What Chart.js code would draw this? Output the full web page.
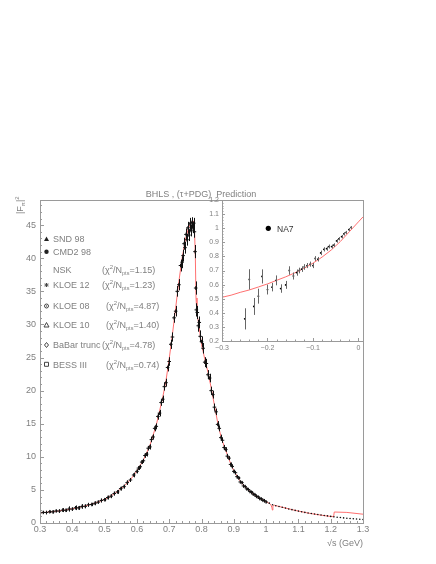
<!DOCTYPE html>
<html>
<head>
<meta charset="utf-8">
<title>BHLS prediction</title>
<script src="https://cdn.jsdelivr.net/npm/chart.js@4.4.1/dist/chart.umd.min.js"></script>
<style>
  html, body { margin: 0; padding: 0; background: #fff; }
  #wrap { position: relative; width: 436px; height: 564px; }
  #mainChart { position: absolute; left: 0; top: 0; }
  #insetChart { position: absolute; left: 190px; top: 190px; }
</style>
</head>
<body>
<div id="wrap">
  <canvas id="mainChart" width="436" height="564"></canvas>
  <canvas id="insetChart" width="180" height="170"></canvas>
</div>
<script>
const FONT = '"Liberation Sans", Arial, sans-serif';
const TEXT = '#808080';
const AXIS = '#9a9a9a';

// Timelike region: |F_pi|^2 against sqrt(s) in GeV
const mainXTicks = [0.3, 0.4, 0.5, 0.6, 0.7, 0.8, 0.9, 1.0, 1.1, 1.2, 1.3];
const mainXLabels = ['0.3', '0.4', '0.5', '0.6', '0.7', '0.8', '0.9', '1', '1.1', '1.2', '1.3'];
const mainYTicks = [0, 5, 10, 15, 20, 25, 30, 35, 40, 45];
const mainYLabels = ['0', '5', '10', '15', '20', '25', '30', '35', '40', '45'];

// BHLS prediction curve (red)
const curveS = [0.30, 0.32, 0.34, 0.36, 0.38, 0.40, 0.42, 0.44, 0.46, 0.48,
  0.50, 0.52, 0.54, 0.56, 0.58, 0.60, 0.62, 0.64, 0.66, 0.68,
  0.69, 0.70, 0.71, 0.72, 0.73, 0.74, 0.75, 0.76, 0.77, 0.775,
  0.778, 0.781, 0.783, 0.786, 0.79, 0.80, 0.81, 0.82, 0.83, 0.84,
  0.85, 0.86, 0.87, 0.88, 0.89, 0.90, 0.92, 0.94, 0.96, 0.98,
  1.00, 1.01, 1.015, 1.018, 1.0195, 1.021, 1.025, 1.03, 1.05, 1.08,
  1.10, 1.13, 1.16, 1.19, 1.209, 1.211, 1.25, 1.30];
const curveF2 = [1.55, 1.62, 1.72, 1.84, 1.98, 2.15, 2.35, 2.58, 2.86, 3.18,
  3.57, 4.10, 4.75, 5.55, 6.55, 7.85, 9.50, 11.7, 14.8, 19.0,
  21.5, 24.8, 28.5, 32.5, 36.5, 40.0, 42.8, 44.6, 45.5, 45.6,
  44.8, 40.0, 34.0, 31.5, 30.5, 27.0, 24.8, 22.8, 20.4, 17.8,
  15.2, 13.1, 11.6, 10.3, 9.0, 7.9, 6.3, 5.2, 4.4, 3.75,
  3.2, 2.95, 2.75, 2.3, 1.95, 2.55, 2.7, 2.62, 2.38, 2.02,
  1.8, 1.5, 1.26, 1.05, 0.95, 1.66, 1.6, 1.33];

// e+e- data (all experiments, black points with errors)
const dataS = [0.30, 0.31, 0.32, 0.33, 0.34, 0.35, 0.36, 0.37, 0.38, 0.39,
  0.40, 0.41, 0.42, 0.43, 0.44, 0.45, 0.46, 0.47, 0.48, 0.49,
  0.50, 0.51, 0.52, 0.53, 0.54, 0.55, 0.56, 0.57, 0.58, 0.59,
  0.60,
  0.605, 0.61, 0.615, 0.62, 0.625, 0.63, 0.635, 0.64, 0.645, 0.65,
  0.655, 0.66, 0.665, 0.67, 0.675, 0.68, 0.685, 0.69, 0.695, 0.70,
  0.705, 0.71, 0.715, 0.72, 0.725, 0.73, 0.735, 0.74,
  0.743, 0.746, 0.749, 0.752, 0.755, 0.758, 0.761, 0.764, 0.767, 0.770,
  0.773, 0.776, 0.778, 0.780, 0.782, 0.784, 0.787, 0.790, 0.793, 0.796,
  0.800,
  0.805, 0.810, 0.815, 0.820, 0.825, 0.830, 0.835, 0.840, 0.845, 0.850,
  0.855, 0.860, 0.865, 0.870, 0.875, 0.880, 0.885, 0.890, 0.895, 0.900,
  0.905, 0.910, 0.915, 0.920, 0.925, 0.930, 0.935, 0.940, 0.945, 0.950,
  0.955, 0.960, 0.965, 0.970, 0.975, 0.980, 0.985, 0.990, 0.995, 1.000];
const dataF2 = [1.52, 1.60, 1.58, 1.70, 1.68, 1.82, 1.80, 1.95, 1.92, 2.12,
  2.10, 2.30, 2.28, 2.50, 2.52, 2.75, 2.80, 2.98, 3.15, 3.40,
  3.52, 3.85, 4.05, 4.45, 4.70, 5.20, 5.50, 6.10, 6.50, 7.25,
  7.80,
  8.3, 8.5, 9.2, 9.4, 10.2, 10.4, 11.3, 11.5, 12.6, 13.0,
  14.3, 14.6, 16.1, 16.6, 18.2, 18.7, 20.6, 21.2, 23.5, 24.4,
  27.0, 28.1, 31.0, 32.0, 35.0, 36.0, 38.9, 39.4,
  40.4, 42.2, 41.6, 43.6, 42.8, 44.6, 43.5, 45.2, 44.2, 45.4,
  44.6, 45.3, 44.0, 41.0, 35.5, 32.2, 31.8, 29.8, 30.3, 28.2,
  27.4,
  26.4, 24.3, 24.1, 22.4, 21.9, 20.0, 19.4, 17.5, 16.8, 14.9,
  14.3, 12.9, 12.5, 11.4, 11.1, 10.1, 9.8, 8.85, 8.55, 7.8,
  7.6, 7.0, 6.8, 6.2, 6.1, 5.6, 5.5, 5.15, 5.05, 4.75,
  4.65, 4.35, 4.28, 4.02, 3.95, 3.7, 3.65, 3.43, 3.36, 3.18];
const dataErr = [0.25, 0.2, 0.25, 0.2, 0.25, 0.2, 0.25, 0.3, 0.25, 0.4,
  0.25, 0.35, 0.3, 0.35, 0.3, 0.3, 0.25, 0.3, 0.25, 0.3,
  0.25, 0.3, 0.3, 0.3, 0.3, 0.3, 0.3, 0.35, 0.3, 0.35,
  0.3,
  0.3, 0.3, 0.3, 0.3, 0.35, 0.35, 0.35, 0.4, 0.4, 0.4,
  0.45, 0.45, 0.5, 0.5, 0.5, 0.55, 0.6, 0.6, 0.6, 0.65,
  0.7, 0.7, 0.75, 0.8, 0.8, 0.85, 0.9, 0.9,
  0.9, 0.9, 0.9, 0.9, 0.9, 0.9, 0.9, 0.9, 0.9, 0.8,
  0.8, 0.8, 0.9, 1.0, 1.0, 1.0, 1.0, 0.9, 0.9, 0.9,
  0.8,
  0.8, 0.75, 0.7, 0.7, 0.65, 0.6, 0.6, 0.55, 0.5, 0.5,
  0.45, 0.45, 0.4, 0.4, 0.35, 0.35, 0.3, 0.3, 0.3, 0.25,
  0.25, 0.25, 0.2, 0.2, 0.2, 0.2, 0.18, 0.18, 0.18, 0.16,
  0.16, 0.15, 0.15, 0.15, 0.14, 0.14, 0.13, 0.13, 0.12, 0.12];

// BaBar points above the fit range (dotted)
const babarS = [1.01, 1.02, 1.03, 1.04, 1.05, 1.06, 1.07, 1.08, 1.09, 1.10,
  1.11, 1.12, 1.13, 1.14, 1.15, 1.16, 1.17, 1.18, 1.19, 1.20,
  1.21, 1.22, 1.23, 1.24, 1.25, 1.26, 1.27, 1.28, 1.29, 1.30];
const babarF2 = [3.0, 2.75, 2.6, 2.5, 2.38, 2.25, 2.12, 2.02, 1.9, 1.8,
  1.7, 1.6, 1.52, 1.43, 1.36, 1.28, 1.2, 1.13, 1.07, 1.0,
  0.93, 0.88, 0.82, 0.77, 0.72, 0.68, 0.64, 0.6, 0.57, 0.54];

// Spacelike inset (NA7)
const insetXTicks = [-0.3, -0.2, -0.1, 0];
const insetXLabels = ['\u22120.3', '\u22120.2', '\u22120.1', '0'];
const insetYTicks = [0.2, 0.3, 0.4, 0.5, 0.6, 0.7, 0.8, 0.9, 1.0, 1.1, 1.2];
const insetYLabels = ['0.2', '0.3', '0.4', '0.5', '0.6', '0.7', '0.8', '0.9', '1', '1.1', '1.2'];

const insetCurveT = [-0.30, -0.28, -0.26, -0.24, -0.22, -0.20, -0.18, -0.16, -0.14, -0.12,
  -0.10, -0.08, -0.06, -0.04, -0.02, 0.00, 0.01];
const insetCurveF2 = [0.510, 0.525, 0.545, 0.562, 0.583, 0.605, 0.630, 0.655, 0.683, 0.715,
  0.752, 0.795, 0.845, 0.905, 0.975, 1.045, 1.08];

const na7T = [-0.250, -0.240, -0.230, -0.220, -0.212, -0.200, -0.190, -0.181, -0.171, -0.160,
  -0.152, -0.143, -0.136, -0.130, -0.125, -0.119, -0.113, -0.106, -0.100, -0.095,
  -0.089, -0.083, -0.076, -0.070, -0.065, -0.059, -0.054, -0.048, -0.043, -0.037,
  -0.032, -0.027, -0.021, -0.016];
const na7F2 = [0.357, 0.637, 0.445, 0.518, 0.658, 0.565, 0.582, 0.630, 0.572, 0.598,
  0.700, 0.661, 0.685, 0.700, 0.710, 0.725, 0.735, 0.745, 0.735, 0.785,
  0.780, 0.825, 0.850, 0.855, 0.870, 0.870, 0.880, 0.910, 0.925, 0.940,
  0.960, 0.970, 0.990, 1.005];
const na7Err = [0.075, 0.072, 0.060, 0.053, 0.050, 0.035, 0.030, 0.035, 0.030, 0.028,
  0.030, 0.025, 0.022, 0.020, 0.020, 0.020, 0.018, 0.018, 0.018, 0.017,
  0.016, 0.016, 0.015, 0.015, 0.014, 0.014, 0.013, 0.013, 0.012, 0.012,
  0.012, 0.011, 0.011, 0.010];

// Legend
const legendNames = ['SND 98', 'CMD2 98', 'NSK', 'KLOE 12', 'KLOE 08', 'KLOE 10', 'BaBar trunc', 'BESS III'];
const legendMarkers = ['triUp', 'dot', '', 'star', 'circle', 'triOpen', 'diamond', 'square'];
const legendChi = ['', '', '1.15', '1.23', '4.87', '1.40', '4.78', '0.74'];

Chart.defaults.font.family = FONT;

function toPoints(xs, ys) {
  return xs.map((x, i) => ({ x: x, y: ys[i] }));
}

// vertical error bars, drawn right after their own dataset
const errorBars = {
  id: 'errorBars',
  afterDatasetDraw(chart, args) {
    const ds = chart.data.datasets[args.index];
    if (!ds.errors) return;
    const ctx = chart.ctx, a = chart.chartArea;
    const xs = chart.scales.x, ys = chart.scales.y;
    ctx.save();
    ctx.beginPath();
    ctx.rect(a.left, a.top, a.right - a.left, a.bottom - a.top);
    ctx.clip();
    ctx.strokeStyle = ds.errorColor;
    ctx.lineWidth = 1;
    ctx.beginPath();
    ds.data.forEach((p, i) => {
      const px = Math.round(xs.getPixelForValue(p.x)) + 0.5;
      ctx.moveTo(px, ys.getPixelForValue(p.y - ds.errors[i]));
      ctx.lineTo(px, ys.getPixelForValue(p.y + ds.errors[i]));
    });
    ctx.stroke();
    ctx.restore();
  }
};

// ROOT style frame with ticks pointing inwards
function drawFrame(chart, major, minor, div) {
  const ctx = chart.ctx, a = chart.chartArea;
  const xs = chart.scales.x, ys = chart.scales.y;
  ctx.save();
  ctx.strokeStyle = AXIS;
  ctx.lineWidth = 1;
  ctx.strokeRect(Math.round(a.left) + 0.5, Math.round(a.top) + 0.5,
    Math.round(a.right - a.left), Math.round(a.bottom - a.top));
  ctx.beginPath();
  const xStep = (xs.ticks[1].value - xs.ticks[0].value) / div;
  for (let k = Math.ceil(xs.min / xStep - 1e-6); k * xStep <= xs.max + 1e-9; k++) {
    const px = Math.round(xs.getPixelForValue(k * xStep)) + 0.5;
    const len = (k % div === 0) ? major : minor;
    ctx.moveTo(px, a.bottom);
    ctx.lineTo(px, a.bottom - len);
  }
  const yStep = (ys.ticks[1].value - ys.ticks[0].value) / div;
  for (let k = Math.ceil(ys.min / yStep - 1e-6); k * yStep <= ys.max + 1e-9; k++) {
    const py = Math.round(ys.getPixelForValue(k * yStep)) + 0.5;
    const len = (k % div === 0) ? major : minor;
    ctx.moveTo(a.left, py);
    ctx.lineTo(a.left + len, py);
  }
  ctx.stroke();
  ctx.restore();
}

// text with sub/superscripts: parts = [text, size, dy]
function richText(ctx, x, y, parts) {
  parts.forEach(([t, size, dy]) => {
    ctx.font = size + 'px ' + FONT;
    ctx.fillText(t, x, y + dy);
    x += ctx.measureText(t).width;
  });
  return x;
}

function drawMarker(ctx, kind, x, y) {
  ctx.save();
  ctx.fillStyle = '#222';
  ctx.strokeStyle = '#444';
  ctx.lineWidth = 1;
  ctx.beginPath();
  if (kind === 'triUp' || kind === 'triOpen') {
    ctx.moveTo(x, y - 2.5);
    ctx.lineTo(x + 2.5, y + 2);
    ctx.lineTo(x - 2.5, y + 2);
    ctx.closePath();
    if (kind === 'triUp') ctx.fill(); else ctx.stroke();
  } else if (kind === 'dot') {
    ctx.arc(x, y, 2.2, 0, Math.PI * 2);
    ctx.fill();
  } else if (kind === 'star') {
    ctx.moveTo(x - 2, y); ctx.lineTo(x + 2, y);
    ctx.moveTo(x, y - 2); ctx.lineTo(x, y + 2);
    ctx.moveTo(x - 1.5, y - 1.5); ctx.lineTo(x + 1.5, y + 1.5);
    ctx.moveTo(x - 1.5, y + 1.5); ctx.lineTo(x + 1.5, y - 1.5);
    ctx.stroke();
  } else if (kind === 'circle') {
    ctx.arc(x, y, 2, 0, Math.PI * 2);
    ctx.stroke();
    ctx.fillRect(x - 0.5, y - 0.5, 1, 1);
  } else if (kind === 'diamond') {
    ctx.moveTo(x, y - 2.5); ctx.lineTo(x + 2, y);
    ctx.lineTo(x, y + 2.5); ctx.lineTo(x - 2, y);
    ctx.closePath();
    ctx.stroke();
  } else if (kind === 'square') {
    ctx.rect(x - 2, y - 2, 4, 4);
    ctx.stroke();
  }
  ctx.restore();
}

const mainDecor = {
  id: 'mainDecor',
  afterDraw(chart) {
    const ctx = chart.ctx;
    drawFrame(chart, 4, 2, 5);
    ctx.save();
    ctx.fillStyle = TEXT;
    ctx.textBaseline = 'alphabetic';

    ctx.font = '9px ' + FONT;
    ctx.textAlign = 'center';
    ctx.fillText('BHLS , (\u03C4+PDG)  Prediction', 201, 197);

    ctx.textAlign = 'right';
    ctx.fillText('\u221As (GeV)', 363, 546);

    // y axis title, rotated
    ctx.save();
    ctx.translate(23, 214);
    ctx.rotate(-Math.PI / 2);
    ctx.textAlign = 'left';
    richText(ctx, 0, 0, [['|F', 9, 0], ['\u03C0', 6, 2], ['|', 9, 0], ['2', 6, -4]]);
    ctx.restore();

    // legend
    const rowY = [239, 251.7, 269.3, 285, 306, 325, 345, 364.3];
    const chiX = [0, 0, 102, 102, 106, 106, 102, 106];
    ctx.textAlign = 'left';
    legendNames.forEach((name, i) => {
      const y = rowY[i];
      if (legendMarkers[i]) drawMarker(ctx, legendMarkers[i], 46.5, y);
      ctx.fillStyle = TEXT;
      ctx.font = '9px ' + FONT;
      ctx.fillText(name, 53, y + 3.2);
      if (legendChi[i]) {
        richText(ctx, chiX[i], y + 3.2, [['(\u03C7', 9, 0], ['2', 6, -4], ['/N', 9, 0],
          ['pts', 5.5, 2], ['=' + legendChi[i] + ')', 9, 0]]);
      }
    });
    ctx.restore();
  }
};

const insetDecor = {
  id: 'insetDecor',
  beforeDraw(chart) {
    const a = chart.chartArea, ctx = chart.ctx;
    ctx.save();
    ctx.fillStyle = '#fff';
    ctx.fillRect(a.left, a.top, a.right - a.left, a.bottom - a.top);
    ctx.restore();
  },
  afterDraw(chart) {
    const ctx = chart.ctx;
    drawFrame(chart, 3, 1.5, 5);
    ctx.save();
    ctx.fillStyle = '#000';
    ctx.beginPath();
    ctx.arc(78.3, 38.3, 2.6, 0, Math.PI * 2);
    ctx.fill();
    ctx.fillStyle = '#333';
    ctx.font = '8.5px ' + FONT;
    ctx.textAlign = 'left';
    ctx.textBaseline = 'alphabetic';
    ctx.fillText('NA7', 87, 41.5);
    ctx.restore();
  }
};

function axisX(min, max, ticks, labels, size, pad, height) {
  return {
    type: 'linear', min: min, max: max,
    grid: { display: false, drawTicks: false },
    border: { display: false },
    ticks: {
      color: TEXT, font: { size: size }, padding: pad,
      autoSkip: false, maxRotation: 0,
      callback: (v, i) => labels[i]
    },
    afterBuildTicks: s => { s.ticks = ticks.map(v => ({ value: v })); },
    afterFit: s => { s.height = height; }
  };
}

function axisY(min, max, ticks, labels, size, pad, width) {
  return {
    type: 'linear', min: min, max: max,
    grid: { display: false, drawTicks: false },
    border: { display: false },
    ticks: {
      color: TEXT, font: { size: size }, padding: pad,
      autoSkip: false,
      callback: (v, i) => labels[i]
    },
    afterBuildTicks: s => { s.ticks = ticks.map(v => ({ value: v })); },
    afterFit: s => { s.width = width; }
  };
}

new Chart(document.getElementById('mainChart'), {
  type: 'scatter',
  data: {
    datasets: [
      {
        data: toPoints(curveS, curveF2),
        showLine: true,
        borderColor: '#ff7070',
        borderWidth: 1,
        pointRadius: 0,
        order: 3
      },
      {
        data: toPoints(babarS, babarF2),
        pointStyle: 'circle',
        pointRadius: 0.8,
        backgroundColor: '#111',
        borderWidth: 0,
        order: 2
      },
      {
        data: toPoints(dataS, dataF2),
        errors: dataErr,
        errorColor: '#111',
        pointStyle: 'cross',
        pointRadius: 1.8,
        borderColor: '#111',
        borderWidth: 1,
        order: 1
      }
    ]
  },
  options: {
    responsive: false,
    devicePixelRatio: 1,
    animation: false,
    events: [],
    layout: { padding: { left: 0, top: 200, right: 73, bottom: 0 } },
    plugins: { legend: { display: false }, tooltip: { enabled: false } },
    scales: {
      x: axisX(0.3, 1.3, mainXTicks, mainXLabels, 9, 1, 41),
      y: axisY(0, 48.8, mainYTicks, mainYLabels, 9, 4, 40)
    }
  },
  plugins: [errorBars, mainDecor]
});

new Chart(document.getElementById('insetChart'), {
  type: 'scatter',
  data: {
    datasets: [
      {
        data: toPoints(insetCurveT, insetCurveF2),
        showLine: true,
        borderColor: '#ff7070',
        borderWidth: 1,
        pointRadius: 0,
        order: 2
      },
      {
        data: toPoints(na7T, na7F2),
        errors: na7Err,
        errorColor: '#666',
        pointStyle: 'circle',
        pointRadius: 0.9,
        backgroundColor: '#000',
        borderWidth: 0,
        order: 1
      }
    ]
  },
  options: {
    responsive: false,
    devicePixelRatio: 1,
    animation: false,
    events: [],
    layout: { padding: { left: 0, top: 10, right: 7, bottom: 0 } },
    plugins: { legend: { display: false }, tooltip: { enabled: false } },
    scales: {
      x: axisX(-0.3, 0.01, insetXTicks, insetXLabels, 7, 3, 19),
      y: axisY(0.2, 1.2, insetYTicks, insetYLabels, 7, 3, 32)
    }
  },
  plugins: [errorBars, insetDecor]
});
</script>
</body>
</html>
